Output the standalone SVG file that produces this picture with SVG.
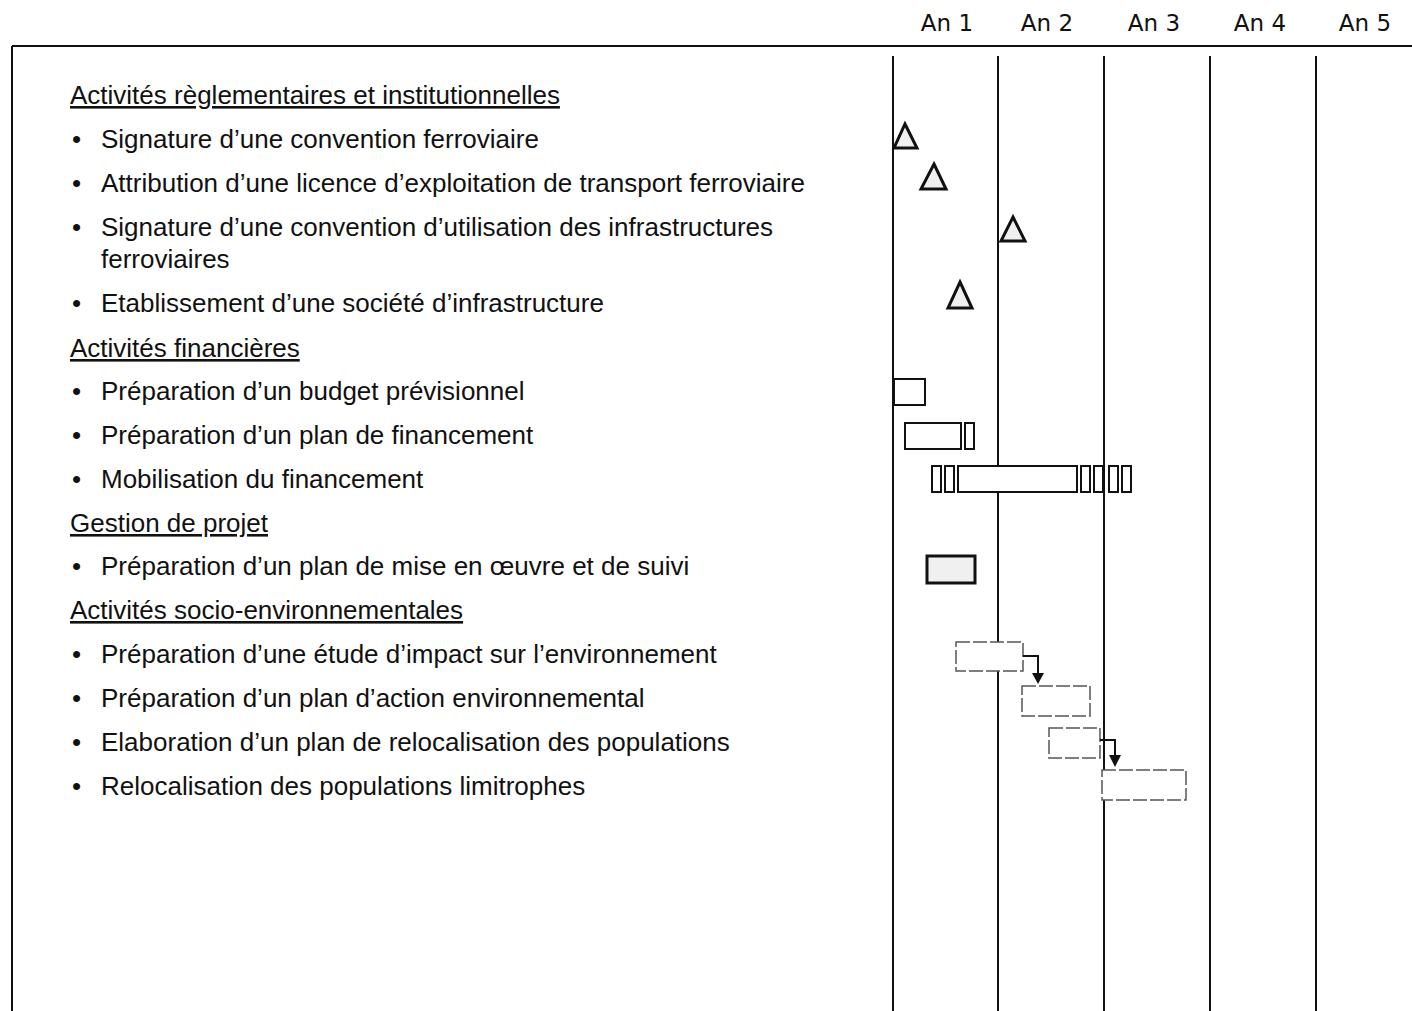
<svg xmlns="http://www.w3.org/2000/svg" width="1412" height="1011" viewBox="0 0 1412 1011">
<style>
.t{font-family:"Liberation Sans",Arial,sans-serif;font-size:26px;fill:#111}
.h{font-family:"Liberation Sans",Arial,sans-serif;font-size:26px;fill:#111;text-decoration:underline}
.yr{font-family:"DejaVu Sans",Verdana,sans-serif;font-size:23px;fill:#111;text-anchor:middle}
.grid{stroke:#111;stroke-width:2;fill:none}
.ms{fill:#f0f0f0;stroke:#111;stroke-width:3;stroke-linejoin:miter}
.bar{fill:#fff;stroke:#111;stroke-width:2}
.bold{fill:#f0f0f0;stroke:#111;stroke-width:3}
.lt{fill:#fff;stroke:#555;stroke-width:1.5;stroke-dasharray:14 3}
.conn{fill:none;stroke:#111;stroke-width:2}
</style>
<rect width="1412" height="1011" fill="#fff"/>
<g id="frame">
<line class="grid" x1="12" y1="46" x2="1412" y2="46"/>
<line class="grid" x1="12" y1="46" x2="12" y2="1011"/>
<line class="grid" x1="893" y1="56" x2="893" y2="1011"/>
<line class="grid" x1="998" y1="56" x2="998" y2="1011"/>
<line class="grid" x1="1104" y1="56" x2="1104" y2="1011"/>
<line class="grid" x1="1210" y1="56" x2="1210" y2="1011"/>
<line class="grid" x1="1316" y1="56" x2="1316" y2="1011"/>
</g>
<g id="years">
<text class="yr" x="947" y="31">An 1</text>
<text class="yr" x="1047" y="31">An 2</text>
<text class="yr" x="1154" y="31">An 3</text>
<text class="yr" x="1260" y="31">An 4</text>
<text class="yr" x="1365" y="31">An 5</text>
</g>
<g id="labels">
<text class="h" x="70" y="104">Activités règlementaires et institutionnelles</text>
<text class="t" x="72" y="148">•</text><text class="t" x="101" y="148">Signature d’une convention ferroviaire</text>
<text class="t" x="72" y="192">•</text><text class="t" x="101" y="192">Attribution d’une licence d’exploitation de transport ferroviaire</text>
<text class="t" x="72" y="236">•</text><text class="t" x="101" y="236">Signature d’une convention d’utilisation des infrastructures</text>
<text class="t" x="101" y="268">ferroviaires</text>
<text class="t" x="72" y="312">•</text><text class="t" x="101" y="312">Etablissement d’une société d’infrastructure</text>
<text class="h" x="70" y="357">Activités financières</text>
<text class="t" x="72" y="400">•</text><text class="t" x="101" y="400">Préparation d’un budget prévisionnel</text>
<text class="t" x="72" y="444">•</text><text class="t" x="101" y="444">Préparation d’un plan de financement</text>
<text class="t" x="72" y="488">•</text><text class="t" x="101" y="488">Mobilisation du financement</text>
<text class="h" x="70" y="532">Gestion de projet</text>
<text class="t" x="72" y="575">•</text><text class="t" x="101" y="575">Préparation d’un plan de mise en œuvre et de suivi</text>
<text class="h" x="70" y="619">Activités socio-environnementales</text>
<text class="t" x="72" y="663">•</text><text class="t" x="101" y="663">Préparation d’une étude d’impact sur l’environnement</text>
<text class="t" x="72" y="707">•</text><text class="t" x="101" y="707">Préparation d’un plan d’action environnemental</text>
<text class="t" x="72" y="751">•</text><text class="t" x="101" y="751">Elaboration d’un plan de relocalisation des populations</text>
<text class="t" x="72" y="795">•</text><text class="t" x="101" y="795">Relocalisation des populations limitrophes</text>
</g>
<g id="milestones">
<polygon id="m1" class="ms" points="905,124 917,148 894,148"/>
<polygon id="m2" class="ms" points="934,164 946,189 921,189"/>
<polygon id="m3" class="ms" points="1013,217 1025,241 1001,241"/>
<polygon id="m4" class="ms" points="960,282 972,308 948,308"/>
</g>
<g id="bars-fin">
<rect id="b1" class="bar" x="894" y="379" width="31" height="26"/>
<rect id="b2" class="bar" x="905" y="423" width="56" height="26"/>
<rect class="bar" x="965" y="423" width="9" height="26"/>
<rect id="b3" class="bar" x="932" y="466" width="9" height="26"/>
<rect class="bar" x="945" y="466" width="9" height="26"/>
<rect class="bar" x="958" y="466" width="119" height="26"/>
<rect class="bar" x="1081" y="466" width="9" height="26"/>
<rect class="bar" x="1094" y="466" width="9" height="26"/>
<rect class="bar" x="1109" y="466" width="9" height="26"/>
<rect class="bar" x="1122" y="466" width="9" height="26"/>
</g>
<g id="bar-gp">
<rect id="b4" class="bold" x="927" y="556" width="48" height="27"/>
</g>
<g id="bars-env">
<rect id="b5" class="lt" x="956" y="642" width="67" height="29"/>
<rect id="b6" class="lt" x="1022" y="686" width="68" height="30"/>
<rect id="b7" class="lt" x="1049" y="728" width="51" height="30"/>
<rect id="b8" class="lt" x="1102" y="770" width="84" height="30"/>
</g>
<g id="connectors">
<path class="conn" d="M1023,656 H1038 V675"/>
<polygon points="1032,673 1044,673 1038,684" fill="#111"/>
<path class="conn" d="M1100,740 H1115 V757"/>
<polygon points="1109,755 1121,755 1115,767" fill="#111"/>
</g>
</svg>
